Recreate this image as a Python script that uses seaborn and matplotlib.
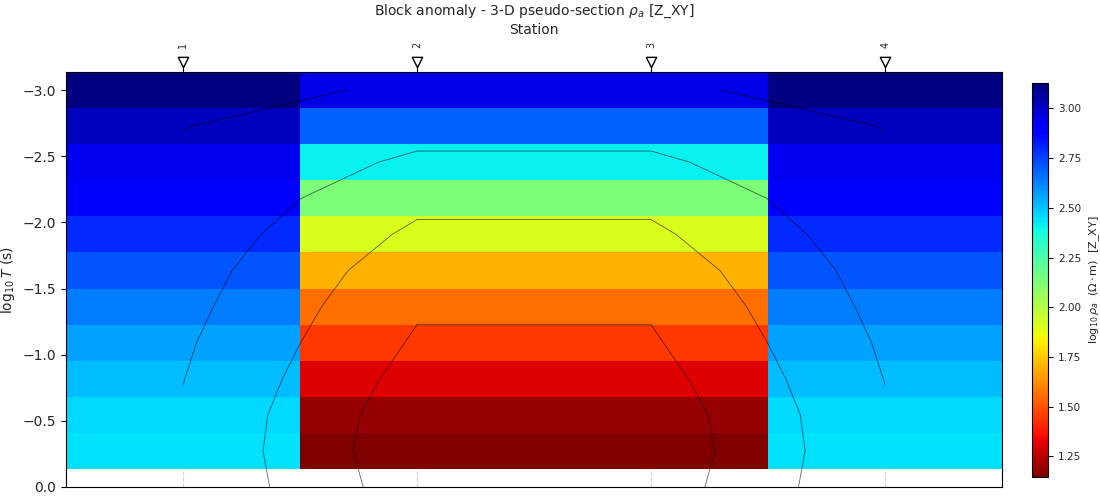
import numpy as np
import matplotlib
matplotlib.use("Agg")
import matplotlib.pyplot as plt
import seaborn as sns

# stations along the profile
stations = [1, 2, 3, 4]
station_labels = ["1", "2", "3", "4"]

# log10 period (s), one row per period
log_periods = [-3.0, -2.727, -2.455, -2.182, -1.909, -1.636,
               -1.364, -1.091, -0.818, -0.545, -0.273, 0.0]

# log10 apparent resistivity per station (Z_XY)
rho_st1 = [3.128, 3.012, 2.93, 2.873, 2.797, 2.712, 2.640, 2.565, 2.509, 2.46, 2.444, 2.4625]
rho_st2 = [2.945, 2.69, 2.415, 2.136, 1.905, 1.703, 1.56, 1.441, 1.31, 1.19, 1.146, 1.2125]
rho_st3 = [2.945, 2.69, 2.415, 2.136, 1.905, 1.703, 1.56, 1.441, 1.31, 1.19, 1.146, 1.2125]
rho_st4 = [3.128, 3.012, 2.93, 2.873, 2.797, 2.712, 2.640, 2.565, 2.509, 2.46, 2.444, 2.4625]

contour_levels = [1.5, 2.0, 2.5, 3.0]

rho = np.column_stack([rho_st1, rho_st2, rho_st3, rho_st4])
periods = np.array(log_periods)

sns.set_style("ticks")
plt.rcParams["font.family"] = ["DejaVu Sans"]
cmap = sns.color_palette("jet_r", as_cmap=True)

fig = plt.figure(figsize=(11, 5), dpi=100)
ax = fig.add_axes([0.06, 0.026, 0.851, 0.830])

# pseudo-section cells (last period row is only used for the contours)
mesh_rho = rho[:-1]
mesh = ax.pcolormesh(stations, periods[:-1], mesh_rho, shading="nearest",
                     cmap=cmap, vmin=mesh_rho.min(), vmax=mesh_rho.max(), zorder=1)
ax.contour(stations, periods, rho, levels=contour_levels,
           colors="k", linewidths=0.6, alpha=0.6, zorder=2)

half = (periods[1] - periods[0]) / 2
ax.set_xlim(stations[0] - 0.5, stations[-1] + 0.5)
ax.set_ylim(0, periods[0] - half)
ax.set_yticks(np.arange(-3.0, 0.01, 0.5))

ax.grid(True, linestyle="--", color="lightgray", linewidth=0.8)
ax.set_axisbelow(True)

# station axis on top
ax.xaxis.tick_top()
ax.xaxis.set_label_position("top")
ax.set_xticks(stations)
ax.set_xticklabels(station_labels, rotation=90, fontsize=7)
ax.tick_params(axis="x", top=True, bottom=False, length=4, pad=13, color="k")
ax.tick_params(axis="y", labelsize=10, color="k")
ax.scatter(stations, [1.024] * len(stations), transform=ax.get_xaxis_transform(),
           marker="v", s=55, facecolor="white", edgecolor="black",
           linewidths=1.0, clip_on=False, zorder=5)
for sp in ax.spines.values():
    sp.set_color("k")

ax.set_xlabel("Station", fontsize=10, labelpad=6)
ax.set_ylabel(r"$\log_{10}T$ (s)", fontsize=10)
ax.set_title(r"Block anomaly - 3-D pseudo-section $\rho_a$ [Z_XY]", fontsize=10, pad=5.5)

cax = fig.add_axes([0.938, 0.046, 0.015, 0.788])
cb = fig.colorbar(mesh, cax=cax)
cb.set_label(r"$\log_{10}\rho_a$  $(\Omega\cdot\mathrm{m})$  [Z_XY]", fontsize=8)
cb.ax.tick_params(labelsize=7.5, color="k")
cb.outline.set_edgecolor("k")

fig.savefig("out.png", dpi=100)
